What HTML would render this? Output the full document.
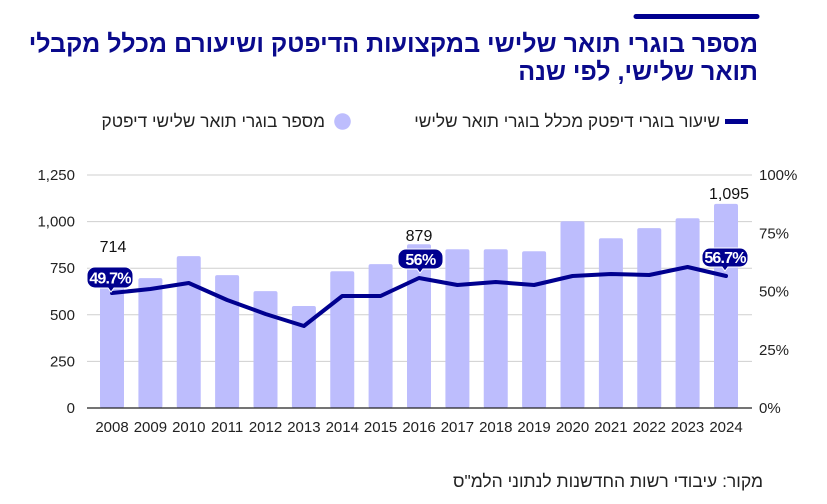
<!DOCTYPE html>
<html><head><meta charset="utf-8">
<style>
html,body{margin:0;padding:0;background:#fff;}
body{width:827px;height:504px;position:relative;overflow:hidden;font-family:"Liberation Sans","DejaVu Sans",sans-serif;}
.t{position:absolute;direction:rtl;text-align:right;white-space:nowrap;}
#title{right:69px;top:30px;font-size:25px;line-height:28px;font-weight:bold;color:#0a0a8c;}
.leg{font-size:17.3px;line-height:18px;color:#222;top:112px;}
#src{right:64px;top:472px;font-size:17.5px;line-height:18px;color:#222;}
svg{position:absolute;left:0;top:0;}
</style></head>
<body>
<svg width="827" height="504" viewBox="0 0 827 504" font-family="Liberation Sans, DejaVu Sans, sans-serif">
  <line x1="636" y1="16.5" x2="757" y2="16.5" stroke="#00008f" stroke-width="5" stroke-linecap="round"/>
  <line x1="725" y1="121.5" x2="748" y2="121.5" stroke="#00008f" stroke-width="5"/>
  <circle cx="342.5" cy="121.5" r="8.3" fill="#bdbdfd"/>
  <g stroke="#cfcfcf" stroke-width="1">
    <line x1="87" y1="175" x2="752" y2="175"/>
    <line x1="87" y1="221.6" x2="752" y2="221.6"/>
    <line x1="87" y1="268.2" x2="752" y2="268.2"/>
    <line x1="87" y1="314.8" x2="752" y2="314.8"/>
    <line x1="87" y1="361.4" x2="752" y2="361.4"/>
  </g>
  <g fill="#bdbdfd">
    <rect x="100" y="274.9" width="24" height="133.1" rx="2"/>
    <rect x="138.4" y="278.1" width="24" height="129.9" rx="2"/>
    <rect x="176.75" y="256.1" width="24" height="151.9" rx="2"/>
    <rect x="215.1" y="275.1" width="24" height="132.9" rx="2"/>
    <rect x="253.5" y="291.1" width="24" height="116.9" rx="2"/>
    <rect x="291.9" y="306" width="24" height="102" rx="2"/>
    <rect x="330.25" y="271.2" width="24" height="136.8" rx="2"/>
    <rect x="368.6" y="264.1" width="24" height="143.9" rx="2"/>
    <rect x="407" y="244.2" width="24" height="163.8" rx="2"/>
    <rect x="445.4" y="249.2" width="24" height="158.8" rx="2"/>
    <rect x="483.75" y="249.2" width="24" height="158.8" rx="2"/>
    <rect x="522.1" y="251.2" width="24" height="156.8" rx="2"/>
    <rect x="560.5" y="221.2" width="24" height="186.8" rx="2"/>
    <rect x="598.9" y="238.2" width="24" height="169.8" rx="2"/>
    <rect x="637.25" y="228.1" width="24" height="179.9" rx="2"/>
    <rect x="675.6" y="218.2" width="24" height="189.8" rx="2"/>
    <rect x="714" y="203.9" width="24" height="204.1" rx="2"/>
  </g>
  <line x1="87" y1="408" x2="752" y2="408" stroke="#222" stroke-width="1.2"/>
  <polyline fill="none" stroke="#00008f" stroke-width="4" stroke-linejoin="round" stroke-linecap="round"
    points="112,293 150.4,289 188.75,283 227.1,300 265.5,314 303.9,326 342.25,296 380.6,296 419,278 457.4,285 495.75,282 534.1,285 572.5,276 610.9,274 649.25,275 687.6,267 726,276"/>
  <g fill="#00008f" stroke="#fff" stroke-width="1">
    <path d="M95,267 H125 A8,8 0 0 1 133,275 V280 A8,8 0 0 1 125,288 H114 L111,292 L108,288 H95 A8,8 0 0 1 87,280 V275 A8,8 0 0 1 95,267 Z"/>
    <path d="M406,249 H435 A8,8 0 0 1 443,257 V261 A8,8 0 0 1 435,269 H423 L420,273 L417,269 H406 A8,8 0 0 1 398,261 V257 A8,8 0 0 1 406,249 Z"/>
    <path d="M710,248 H740 A8,8 0 0 1 748,256 V259 A8,8 0 0 1 740,267 H728 L725,271 L722,267 H710 A8,8 0 0 1 702,259 V256 A8,8 0 0 1 710,248 Z"/>
  </g>
  <g fill="#fff" font-size="16" font-weight="bold" text-anchor="middle">
    <text x="110" y="283.5" letter-spacing="-0.8">49.7%</text>
    <text x="420.5" y="265" letter-spacing="-0.6">56%</text>
    <text x="725" y="263" letter-spacing="-0.8">56.7%</text>
  </g>
  <g fill="#111" font-size="16" text-anchor="middle">
    <text x="113" y="252">714</text>
    <text x="419" y="241">879</text>
    <text x="729" y="199">1,095</text>
  </g>
  <g fill="#222" font-size="15" text-anchor="end">
    <text x="75" y="180">1,250</text>
    <text x="75" y="226.6">1,000</text>
    <text x="75" y="273.2">750</text>
    <text x="75" y="319.8">500</text>
    <text x="75" y="366.4">250</text>
    <text x="75" y="413">0</text>
  </g>
  <g fill="#222" font-size="15" text-anchor="start">
    <text x="759" y="180">100%</text>
    <text x="759" y="238.25">75%</text>
    <text x="759" y="296.5">50%</text>
    <text x="759" y="354.75">25%</text>
    <text x="759" y="413">0%</text>
  </g>
  <g fill="#222" font-size="15" text-anchor="middle">
    <text x="112" y="432">2008</text>
    <text x="150.4" y="432">2009</text>
    <text x="188.75" y="432">2010</text>
    <text x="227.1" y="432">2011</text>
    <text x="265.5" y="432">2012</text>
    <text x="303.9" y="432">2013</text>
    <text x="342.25" y="432">2014</text>
    <text x="380.6" y="432">2015</text>
    <text x="419" y="432">2016</text>
    <text x="457.4" y="432">2017</text>
    <text x="495.75" y="432">2018</text>
    <text x="534.1" y="432">2019</text>
    <text x="572.5" y="432">2020</text>
    <text x="610.9" y="432">2021</text>
    <text x="649.25" y="432">2022</text>
    <text x="687.6" y="432">2023</text>
    <text x="726" y="432">2024</text>
  </g>
</svg>
<div id="title" class="t">מספר בוגרי תואר שלישי במקצועות הדיפטק ושיעורם מכלל מקבלי<br>תואר שלישי, לפי שנה</div>
<div class="t leg" style="right:107px;">שיעור בוגרי דיפטק מכלל בוגרי תואר שלישי</div>
<div class="t leg" style="right:502px;">מספר בוגרי תואר שלישי דיפטק</div>
<div id="src" class="t">מקור: עיבודי רשות החדשנות לנתוני הלמ"ס</div>
</body></html>
